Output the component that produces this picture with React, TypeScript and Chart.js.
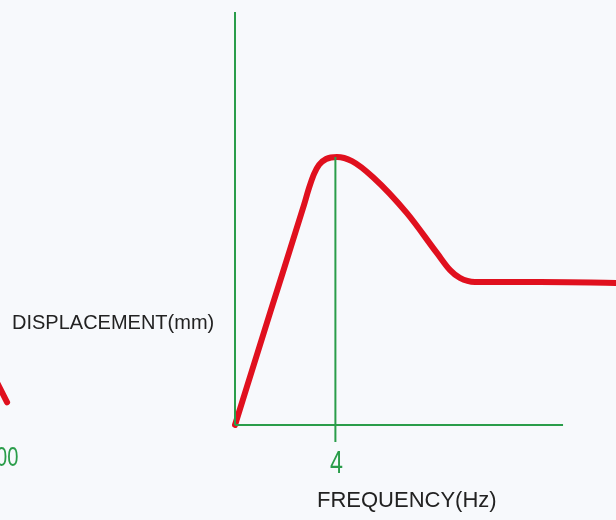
import React, { useEffect, useRef } from "react";
import { Chart, registerables } from "chart.js";

Chart.register(...registerables);

// Frequency (Hz) and displacement (arbitrary mm units) of the response curve
const freq = [0, 1.43, 2.75, 2.95, 3.15, 3.35, 3.63, 4.06, 4.66, 5.5, 6.85, 8.05, 8.57, 8.96, 9.56, 12.15, 15.18];
const disp = [0, 2.78, 5.33, 5.74, 6.08, 6.3, 6.44, 6.49, 6.39, 6.0, 5.13, 4.16, 3.75, 3.56, 3.46, 3.46, 3.44];

// Axis extents
const xAxisEnd = 13.07;
const yAxisTop = 10;
const peakFreq = 4;
const peakDisp = 6.49;
const tickBelow = -0.41;
const tickLabels = ["4"];
const tickValues = [4];

// fragment of a neighbouring curve at the left edge
const fragX = [-9.56, -9.08];
const fragY = [1.12, 0.55];

const GREEN = "#2a9d4a";
const RED = "#e0101e";

export default function App() {
  const ref = useRef<HTMLCanvasElement | null>(null);
  useEffect(() => {
    const ctx = ref.current!;
    const tickLabelPlugin = {
      id: "tickLabelPlugin",
      afterDatasetsDraw(chart: any) {
        const c = chart.ctx;
        const xs = chart.scales.x;
        const ys = chart.scales.y;
        c.save();
        c.fillStyle = GREEN;
        c.font = "31px 'Liberation Sans', Arial, sans-serif";
        c.textAlign = "center";
        c.textBaseline = "middle";
        tickValues.forEach((v, i) => {
          const px = xs.getPixelForValue(v) + 1;
          const py = ys.getPixelForValue(tickBelow) + 23;
          c.save();
          c.translate(px, py);
          c.scale(0.75, 1);
          c.fillText(tickLabels[i], 0, 0);
          c.restore();
        });
        c.restore();
      },
    };
    const chart = new Chart(ctx, {
      type: "line",
      data: {
        datasets: [
          {
            data: [{ x: 0, y: 0 }, { x: 0, y: yAxisTop }],
            borderColor: GREEN,
            borderWidth: 2,
            pointRadius: 0,
            clip: false as any,
          },
          {
            data: [{ x: 0, y: 0 }, { x: xAxisEnd, y: 0 }],
            borderColor: GREEN,
            borderWidth: 2,
            pointRadius: 0,
            clip: false as any,
          },
          {
            data: [{ x: peakFreq, y: tickBelow }, { x: peakFreq, y: peakDisp }],
            borderColor: GREEN,
            borderWidth: 2,
            pointRadius: 0,
            clip: false as any,
          },
          {
            data: freq.map((f, i) => ({ x: f, y: disp[i] })),
            borderColor: RED,
            borderWidth: 6,
            pointRadius: 0,
            cubicInterpolationMode: "monotone",
            borderCapStyle: "round",
            borderJoinStyle: "round",
            clip: false as any,
          },
          {
            data: fragX.map((f, i) => ({ x: f, y: fragY[i] })),
            borderColor: RED,
            borderWidth: 6,
            pointRadius: 0,
            borderCapStyle: "round",
            clip: false as any,
          },
        ],
      },
      options: {
        animation: false,
        responsive: false,
        layout: { padding: { left: 235, top: 12, right: 0, bottom: 95 } },
        plugins: { legend: { display: false }, tooltip: { enabled: false } },
        scales: {
          x: { type: "linear", min: 0, max: 15.18, display: false },
          y: { type: "linear", min: 0, max: yAxisTop, display: false },
        },
      },
      plugins: [tickLabelPlugin],
    });
    return () => chart.destroy();
  }, []);

  const font = "'Liberation Sans', Arial, sans-serif";
  return (
    <div
      style={{
        position: "absolute",
        left: 0,
        top: 0,
        width: 616,
        height: 520,
        background: "#f7f9fc",
        overflow: "hidden",
        fontFamily: font,
      }}
    >
      <canvas ref={ref} width={616} height={520} style={{ position: "absolute", left: 0, top: 0 }} />
      <div style={{ position: "absolute", left: 12, top: 310, fontSize: 20, color: "#222", lineHeight: "24px", whiteSpace: "nowrap" }}>
        DISPLACEMENT(mm)
      </div>
      <div style={{ position: "absolute", left: 317, top: 488, fontSize: 22, color: "#222", lineHeight: "24px", whiteSpace: "nowrap" }}>
        FREQUENCY(Hz)
      </div>
      <div
        style={{
          position: "absolute",
          left: -4,
          top: 441,
          fontSize: 28,
          color: GREEN,
          lineHeight: "32px",
          whiteSpace: "nowrap",
          transform: "scaleX(0.72)",
          transformOrigin: "left center",
        }}
      >
        00
      </div>
    </div>
  );
}
